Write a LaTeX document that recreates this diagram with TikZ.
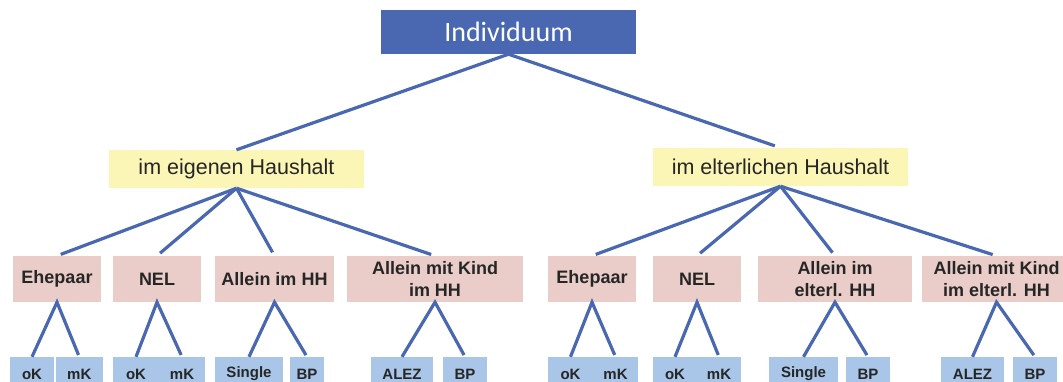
\documentclass[tikz,border=0pt]{standalone}
\usepackage{fontspec}
\setmainfont{Liberation Sans}
\newfontfamily\calibrifont{Carlito}
\definecolor{lineblue}{HTML}{4A68B1}
\definecolor{hhyellow}{HTML}{FBF5B6}
\definecolor{typpink}{HTML}{EACDC8}
\definecolor{subblue}{HTML}{A9C5E7}
\definecolor{txtgray}{HTML}{262626}

\begin{document}
\begin{tikzpicture}[x=1pt,y=-1pt,align=center,inner sep=0pt,
    toplevel/.style={fill=lineblue,text=white,minimum width=255pt,minimum height=44pt,font=\calibrifont\fontsize{28}{30}\selectfont},
    hhbox/.style={fill=hhyellow,text=txtgray,minimum width=255pt,minimum height=38pt,font=\fontsize{21.5}{24}\selectfont},
    typbox/.style={fill=typpink,text=txtgray,minimum height=46pt,font=\bfseries\fontsize{18}{22}\selectfont},
    subbox/.style={fill=subblue,text=txtgray,minimum height=34pt,font=\bfseries\fontsize{15}{18}\selectfont},
    branch/.style={lineblue,line width=3.2pt}]
      \useasboundingbox (0,0) rectangle (1063,381);
      \clip (0,0) rectangle (1063,381);

      %top
      \node[toplevel] (indiv) at (508.5,32) {Individuum};

      %households
      \node[hhbox] (hheigen) at (236.5,169) {im eigenen Haushalt};
      \node[hhbox] (hheltern) at (780.5,167) {im elterlichen Haushalt};

      %types, own household
      \node[typbox,minimum width=88pt] (ehe1) at (57,279) {Ehepaar};
      \node[typbox,minimum width=88pt] (nel1) at (157,279) {NEL};
      \node[typbox,minimum width=119pt] (allein1) at (274.5,279) {Allein im HH};
      \node[typbox,minimum width=176pt] (kind1) at (435,279) {Allein mit Kind\\im HH};
      %types, parental household
      \node[typbox,minimum width=88pt] (ehe2) at (592,279) {Ehepaar};
      \node[typbox,minimum width=88pt] (nel2) at (697,279) {NEL};
      \node[typbox,minimum width=154pt] (allein2) at (835,279) {Allein im\\elterl. HH};
      \node[typbox,minimum width=149pt] (kind2) at (996.5,279) {Allein mit Kind\\im elterl. HH};

      %sub groups, own household
      \node[subbox,minimum width=44pt] (ok1) at (32,374) {oK};
      \node[subbox,minimum width=47.5pt] (mk1) at (79.25,374) {mK};
      \node[subbox,minimum width=46pt] (ok2) at (136,374) {oK};
      \node[subbox,minimum width=46pt] (mk2) at (182,374) {mK};
      \node[subbox,minimum width=68pt] (single1) at (249,374) {Single};
      \node[subbox,minimum width=34pt] (bp1) at (307,374) {BP};
      \node[subbox,minimum width=62pt] (alez1) at (402,374) {ALEZ};
      \node[subbox,minimum width=44pt] (bp2) at (465,374) {BP};
      %sub groups, parental household
      \node[subbox,minimum width=45pt] (ok3) at (570.5,374) {oK};
      \node[subbox,minimum width=45pt] (mk3) at (615.5,374) {mK};
      \node[subbox,minimum width=44pt] (ok4) at (675,374) {oK};
      \node[subbox,minimum width=44pt] (mk4) at (719,374) {mK};
      \node[subbox,minimum width=69pt] (single2) at (803.5,374) {Single};
      \node[subbox,minimum width=44pt] (bp3) at (868,374) {BP};
      \node[subbox,minimum width=63pt] (alez2) at (972.5,374) {ALEZ};
      \node[subbox,minimum width=44pt] (bp4) at (1035,374) {BP};

      %connectors
      \draw[branch] (indiv.south) -- (hheigen.north);
      \draw[branch,shorten >=6pt] (indiv.south) -- (hheltern.north);

      \draw[branch,shorten >=4pt] (hheigen.south) -- (ehe1.north);
      \draw[branch,shorten >=4pt] (hheigen.south) -- (nel1.north);
      \draw[branch,shorten >=4pt] (hheigen.south) -- (allein1.north);
      \draw[branch,shorten >=4pt] (hheigen.south) -- (kind1.north);
      \draw[branch,shorten >=4pt] (hheltern.south) -- (ehe2.north);
      \draw[branch,shorten >=4pt] (hheltern.south) -- (nel2.north);
      \draw[branch,shorten >=4pt] (hheltern.south) -- (allein2.north);
      \draw[branch,shorten >=4pt] (hheltern.south) -- (kind2.north);

      \draw[branch,shorten >=2pt] (ok1.north) -- (ehe1.south) -- (mk1.north);
      \draw[branch,shorten >=2pt] (ok2.north) -- (nel1.south) -- (mk2.north);
      \draw[branch,shorten >=2pt] (single1.north) -- (allein1.south) -- (bp1.north);
      \draw[branch,shorten >=2pt] (alez1.north) -- (kind1.south) -- (bp2.north);
      \draw[branch,shorten >=2pt] (ok3.north) -- (ehe2.south) -- (mk3.north);
      \draw[branch,shorten >=2pt] (ok4.north) -- (nel2.south) -- (mk4.north);
      \draw[branch,shorten >=2pt] (single2.north) -- (allein2.south) -- (bp3.north);
      \draw[branch,shorten >=2pt] (alez2.north) -- (kind2.south) -- (bp4.north);

\end{tikzpicture}
\end{document}
